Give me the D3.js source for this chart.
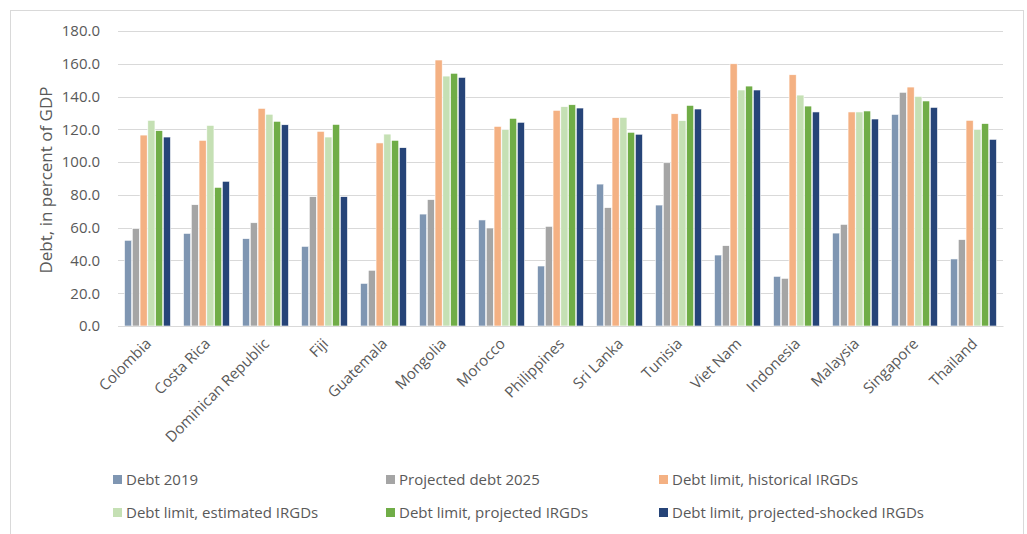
<!DOCTYPE html>
<html lang="en">
<head>
  <meta charset="UTF-8">
  <title>Debt limits</title>
  <script src="https://cdn.jsdelivr.net/npm/d3@7"></script>
  <style>
    body { margin: 0; background: #fff; }
    text { font-family: "Open Sans", sans-serif; fill: #595959; }
  </style>
</head>
<body>
  <script>
    const countries = ["Colombia", "Costa Rica", "Dominican Republic", "Fiji", "Guatemala", "Mongolia",
      "Morocco", "Philippines", "Sri Lanka", "Tunisia", "Viet Nam", "Indonesia", "Malaysia", "Singapore", "Thailand"];

    const seriesNames = ["Debt 2019", "Projected debt 2025", "Debt limit, historical IRGDs",
      "Debt limit, estimated IRGDs", "Debt limit, projected IRGDs", "Debt limit, projected-shocked IRGDs"];

    const debt2019 = [52.3, 56.5, 53.3, 48.6, 26.0, 68.3, 64.7, 36.6, 86.6, 73.8, 43.3, 30.3, 56.7, 129.1, 40.9];
    const projected2025 = [59.4, 74.0, 63.0, 78.9, 34.0, 77.1, 59.8, 60.8, 72.2, 99.6, 49.0, 29.1, 62.0, 142.6, 52.7];
    const limitHistorical = [116.5, 113.3, 132.8, 118.8, 111.7, 162.3, 121.8, 131.6, 127.1, 129.5, 160.0, 153.3, 130.6, 145.8, 125.5];
    const limitEstimated = [125.5, 122.4, 129.2, 115.3, 117.1, 152.5, 119.8, 133.8, 127.3, 125.3, 144.0, 140.9, 130.6, 140.1, 119.8];
    const limitProjected = [119.2, 84.6, 124.9, 123.0, 113.3, 154.2, 126.7, 135.0, 118.2, 134.6, 146.4, 134.2, 131.2, 137.3, 123.5];
    const limitShocked = [115.3, 88.3, 122.8, 78.9, 108.8, 151.7, 124.3, 133.0, 117.0, 132.4, 144.0, 130.6, 126.3, 133.4, 113.9];

    const yTicks = [0, 20, 40, 60, 80, 100, 120, 140, 160, 180];
    const colors = ["#7f96b2", "#a5a5a5", "#f4b183", "#c5e0b4", "#70ad47", "#264478"];

    const allSeries = [debt2019, projected2025, limitHistorical, limitEstimated, limitProjected, limitShocked];
    const rows = countries.map((c, i) => ({ country: c, values: allSeries.map(s => s[i]) }));

    const W = 1027, H = 534;
    const plot = { left: 118, right: 1003, top: 31, bottom: 326 };

    const svg = d3.select("body").append("svg")
      .attr("width", W)
      .attr("height", H);

    // outer chart frame
    svg.append("rect")
      .attr("x", 10.5).attr("y", 10.5)
      .attr("width", 1013).attr("height", 540)
      .attr("fill", "none")
      .attr("stroke", "#d9d9d9");

    const x = d3.scaleBand()
      .domain(countries)
      .range([plot.left, plot.right])
      .paddingInner(0.2)
      .paddingOuter(0.1);

    const x1 = d3.scaleBand()
      .domain(d3.range(seriesNames.length))
      .range([0, x.bandwidth()])
      .padding(0.08);

    const y = d3.scaleLinear()
      .domain([0, 180])
      .range([plot.bottom, plot.top]);

    // gridlines
    svg.append("g")
      .selectAll("line")
      .data(yTicks)
      .enter()
      .append("line")
      .attr("x1", plot.left)
      .attr("x2", plot.right)
      .attr("y1", d => Math.round(y(d)) + 0.5)
      .attr("y2", d => Math.round(y(d)) + 0.5)
      .attr("stroke", "#d9d9d9")
      .attr("stroke-width", 1);

    const yAxis = d3.axisLeft(y)
      .tickValues(yTicks)
      .tickFormat(d3.format(".1f"))
      .tickSize(0)
      .tickPadding(18);

    svg.append("g")
      .attr("transform", `translate(${plot.left}, 0)`)
      .call(yAxis)
      .call(g => g.select(".domain").remove())
      .selectAll("text")
      .style("font-size", "15px");

    // bars
    const groups = svg.append("g")
      .selectAll("g")
      .data(rows)
      .enter()
      .append("g")
      .attr("transform", d => `translate(${x(d.country)}, 0)`);

    groups.selectAll("rect")
      .data(d => d.values)
      .enter()
      .append("rect")
      .attr("x", (d, i) => x1(i))
      .attr("y", d => y(d))
      .attr("width", x1.bandwidth())
      .attr("height", d => y(0) - y(d))
      .attr("fill", (d, i) => colors[i])
      .attr("stroke", "#fff")
      .attr("stroke-width", 0.6);

    // x axis
    const xAxis = d3.axisBottom(x).tickSize(0).tickPadding(0);
    const xg = svg.append("g")
      .attr("transform", `translate(0, ${plot.bottom})`)
      .call(xAxis);
    xg.select(".domain").attr("stroke", "#d9d9d9");
    xg.selectAll("text")
      .style("font-size", "15px")
      .attr("text-anchor", "end")
      .attr("x", 0)
      .attr("y", 0)
      .attr("dy", "0.35em")
      .attr("transform", "translate(1, 15) rotate(-45)");

    // y title
    svg.append("text")
      .attr("transform", "translate(52, 180) rotate(-90)")
      .attr("text-anchor", "middle")
      .style("font-size", "17px")
      .text("Debt, in percent of GDP");

    // legend
    const legendX = [113, 386, 659];
    const legendY = [480, 513];
    const legend = svg.append("g")
      .selectAll("g")
      .data(seriesNames)
      .enter()
      .append("g")
      .attr("transform", (d, i) => `translate(${legendX[i % 3]}, ${legendY[Math.floor(i / 3)]})`);

    legend.append("rect")
      .attr("x", 0).attr("y", -5)
      .attr("width", 9).attr("height", 9)
      .attr("fill", (d, i) => colors[i]);

    legend.append("text")
      .attr("x", 13)
      .attr("dy", "0.35em")
      .style("font-size", "15px")
      .text(d => d);
  </script>
</body>
</html>
